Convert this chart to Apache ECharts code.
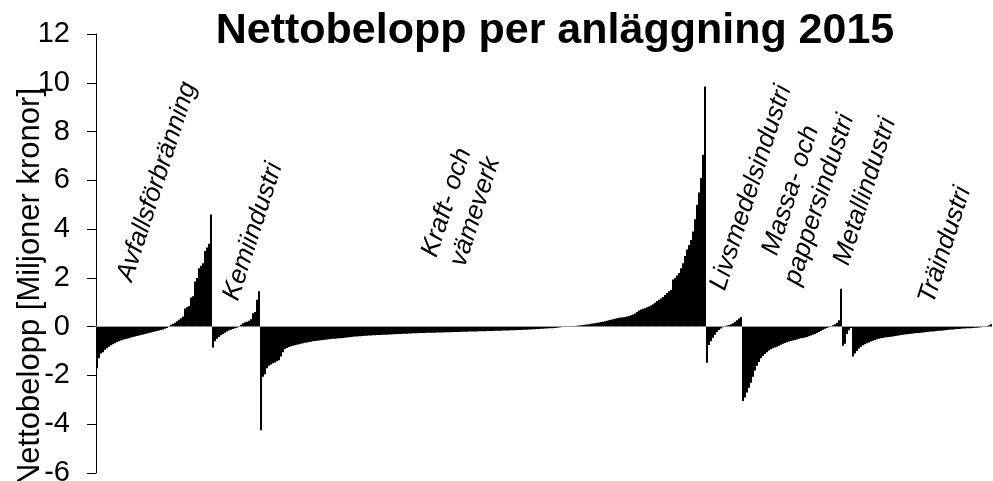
<!DOCTYPE html>
<html>
<head>
<meta charset="utf-8">
<script src="https://cdn.jsdelivr.net/npm/echarts@6/dist/echarts.min.js"></script>
<style>
  html, body { margin: 0; padding: 0; background: #fff; }
  #chart { width: 993px; height: 481px; }
</style>
</head>
<body>
<div id="chart"></div>
<script>
// industry groups, each list sorted ascending (Miljoner kronor per anläggning)
const groupNames = ["Avfallsförbränning", "Kemiindustri", "Kraft- och värmeverk", "Livsmedelsindustri",
    "Massa- och pappersindustri", "Metallindustri", "Träindustri"];

const avfall = [-1.7, -1.3, -1.1, -1.05, -0.95, -0.88, -0.82, -0.76, -0.72, -0.68,
    -0.63, -0.6, -0.57, -0.54, -0.52, -0.5, -0.47, -0.44, -0.42, -0.4,
    -0.38, -0.36, -0.34, -0.32, -0.3, -0.28, -0.26, -0.24, -0.22, -0.2,
    -0.18, -0.16, -0.14, -0.12, -0.09, -0.05, 0.02, 0.08, 0.12, 0.16,
    0.22, 0.28, 0.35, 0.42, 0.75, 0.8, 0.85, 1.2, 1.25, 1.85,
    2.0, 2.4, 2.5, 2.6, 3.1, 3.25, 3.4, 4.6];

const kemi = [-0.85, -0.6, -0.5, -0.42, -0.35, -0.3, -0.25, -0.2, -0.16, -0.13,
    -0.1, -0.07, -0.04, 0.02, 0.08, 0.14, 0.18, 0.2, 0.24, 0.3,
    0.55, 0.6, 1.1, 1.45];

const kraft = [-4.25, -2.05, -1.95, -1.7, -1.6, -1.55, -1.5, -1.47, -1.42, -1.38,
    -1.22, -1.05, -0.92, -0.87, -0.83, -0.8, -0.78, -0.76, -0.74, -0.72,
    -0.7, -0.68, -0.66, -0.65, -0.63, -0.62, -0.6, -0.59, -0.58, -0.57,
    -0.56, -0.55, -0.54, -0.53, -0.52, -0.51, -0.5, -0.5, -0.49, -0.48,
    -0.47, -0.46, -0.45, -0.44, -0.43, -0.42, -0.41, -0.4, -0.4, -0.39,
    -0.39, -0.38, -0.37, -0.37, -0.36, -0.36, -0.35, -0.35, -0.34, -0.34,
    -0.34, -0.33, -0.33, -0.33, -0.32, -0.32, -0.31, -0.31, -0.3, -0.3,
    -0.3, -0.29, -0.29, -0.29, -0.28, -0.28, -0.27, -0.27, -0.27, -0.26,
    -0.26, -0.26, -0.26, -0.25, -0.25, -0.25, -0.25, -0.25, -0.24, -0.24,
    -0.24, -0.24, -0.23, -0.23, -0.23, -0.23, -0.22, -0.22, -0.22, -0.22,
    -0.21, -0.21, -0.21, -0.21, -0.2, -0.2, -0.2, -0.2, -0.2, -0.19,
    -0.19, -0.19, -0.19, -0.18, -0.18, -0.18, -0.18, -0.17, -0.17, -0.17,
    -0.17, -0.16, -0.16, -0.16, -0.16, -0.15, -0.15, -0.15, -0.14, -0.14,
    -0.14, -0.13, -0.13, -0.13, -0.12, -0.12, -0.11, -0.11, -0.1, -0.1,
    -0.09, -0.09, -0.08, -0.08, -0.07, -0.06, -0.06, -0.05, -0.04, -0.03,
    -0.02, -0.01, -0.01, 0.01, 0.01, 0.02, 0.02, 0.03, 0.04, 0.05,
    0.06, 0.07, 0.08, 0.09, 0.1, 0.12, 0.13, 0.14, 0.16, 0.17,
    0.19, 0.2, 0.22, 0.24, 0.26, 0.28, 0.3, 0.32, 0.34, 0.37,
    0.38, 0.39, 0.4, 0.42, 0.44, 0.47, 0.5, 0.54, 0.6, 0.66,
    0.7, 0.73, 0.76, 0.8, 0.83, 0.87, 0.92, 0.98, 1.05, 1.1,
    1.15, 1.22, 1.3, 1.38, 1.45, 1.5, 1.93, 2.0, 2.1, 2.2,
    2.4, 2.6, 2.9, 3.16, 3.35, 3.55, 3.9, 4.4, 5.0, 5.5,
    6.1, 7.05, 9.85];

const livsmedel = [-1.48, -0.75, -0.6, -0.45, -0.33, -0.22, -0.14, -0.08, -0.02, 0.02,
    0.05, 0.07, 0.1, 0.14, 0.2, 0.26, 0.33, 0.4];

const massa = [-3.05, -2.9, -2.7, -2.5, -2.3, -2.05, -1.8, -1.6, -1.45, -1.3,
    -1.2, -1.12, -1.05, -0.98, -0.93, -0.89, -0.85, -0.82, -0.78, -0.74,
    -0.7, -0.67, -0.64, -0.61, -0.59, -0.57, -0.55, -0.53, -0.5, -0.48,
    -0.46, -0.44, -0.42, -0.39, -0.36, -0.33, -0.3, -0.26, -0.22, -0.18,
    -0.13, -0.09, -0.05, -0.02, 0.02, 0.06, 0.1, 0.16, 0.26, 1.55];

const metall = [-0.78, -0.7, -0.3, -0.15, -0.05];

const tra = [-1.22, -1.1, -1.0, -0.9, -0.82, -0.76, -0.72, -0.68, -0.65, -0.61,
    -0.58, -0.55, -0.52, -0.5, -0.48, -0.46, -0.44, -0.43, -0.42, -0.41,
    -0.4, -0.38, -0.37, -0.36, -0.34, -0.33, -0.32, -0.31, -0.3, -0.29,
    -0.28, -0.27, -0.26, -0.26, -0.25, -0.24, -0.23, -0.22, -0.21, -0.2,
    -0.2, -0.19, -0.18, -0.17, -0.17, -0.16, -0.15, -0.14, -0.13, -0.12,
    -0.12, -0.11, -0.1, -0.1, -0.09, -0.08, -0.08, -0.07, -0.06, -0.06,
    -0.05, -0.04, -0.04, -0.03, -0.02, -0.01, 0.01, 0.03, 0.06, 0.1];

const groupValues = [avfall, kemi, kraft, livsmedel, massa, metall, tra];

// labels written into the plot, anchored at (facility index, value)
const labelTexts = ["Avfallsförbränning", "Kemiindustri", "Kraft- och\nvämeverk", "Livsmedelsindustri",
    "Massa- och\npappersindustri", "Metallindustri", "Träindustri"];
const labelIndex = [30, 78, 182, 327, 354, 384, 424];
const labelValue = [5.95, 3.9, 4.9, 5.7, 5.4, 5.55, 3.35];

const yTicks = [-6, 12, 2];

let categories = [];
let values = [];
groupValues.forEach((list, g) => {
    list.forEach((v, i) => {
        categories.push(groupNames[g] + " " + (i + 1));
        values.push(v);
    });
});

const font = "'Liberation Sans', Arial, sans-serif";
let chart = echarts.init(document.getElementById("chart"));

chart.setOption({
    animation: false,
    title: {
        text: "Nettobelopp per anläggning 2015",
        left: 550,
        top: 5,
        textAlign: "center",
        textStyle: {
            fontFamily: font,
            fontSize: 43,
            fontWeight: "bold",
            color: "#000"
        }
    },
    grid: {
        left: 96,
        right: 1,
        top: 34,
        bottom: 8,
        containLabel: false,
        outerBoundsMode: "none"
    },
    xAxis: {
        type: "category",
        data: categories,
        axisLine: {
            onZero: true,
            lineStyle: { color: "#999", width: 1, type: "dotted" }
        },
        axisTick: { show: false },
        axisLabel: { show: false },
        splitLine: { show: false },
        z: 5
    },
    yAxis: {
        type: "value",
        min: yTicks[0],
        max: yTicks[1],
        interval: yTicks[2],
        axisLine: { show: true, lineStyle: { color: "#000", width: 1 } },
        axisTick: { show: true, length: 9, lineStyle: { color: "#000" } },
        axisLabel: {
            margin: 26,
            fontFamily: font,
            fontSize: 29,
            color: "#000"
        },
        splitLine: { show: false }
    },
    series: [{
        type: "bar",
        data: values,
        barCategoryGap: "0%",
        itemStyle: { color: "#000", borderWidth: 0 },
        silent: true
    }]
});

let graphics = [{
    type: "text",
    x: 30,
    y: 287,
    rotation: Math.PI / 2,
    style: {
        text: "Nettobelopp [Miljoner kronor]",
        font: "31px " + font,
        fill: "#000",
        textAlign: "center",
        textVerticalAlign: "middle"
    }
}];
labelTexts.forEach((t, k) => {
    let p = chart.convertToPixel({ gridIndex: 0 }, [labelIndex[k], labelValue[k]]);
    graphics.push({
        type: "text",
        x: p[0],
        y: p[1],
        rotation: 72 * Math.PI / 180,
        style: {
            text: t,
            font: "italic 26px " + font,
            fill: "#000",
            textAlign: "center",
            textVerticalAlign: "middle",
            lineHeight: 30
        }
    });
});
chart.setOption({ graphic: graphics });
</script>
</body>
</html>
